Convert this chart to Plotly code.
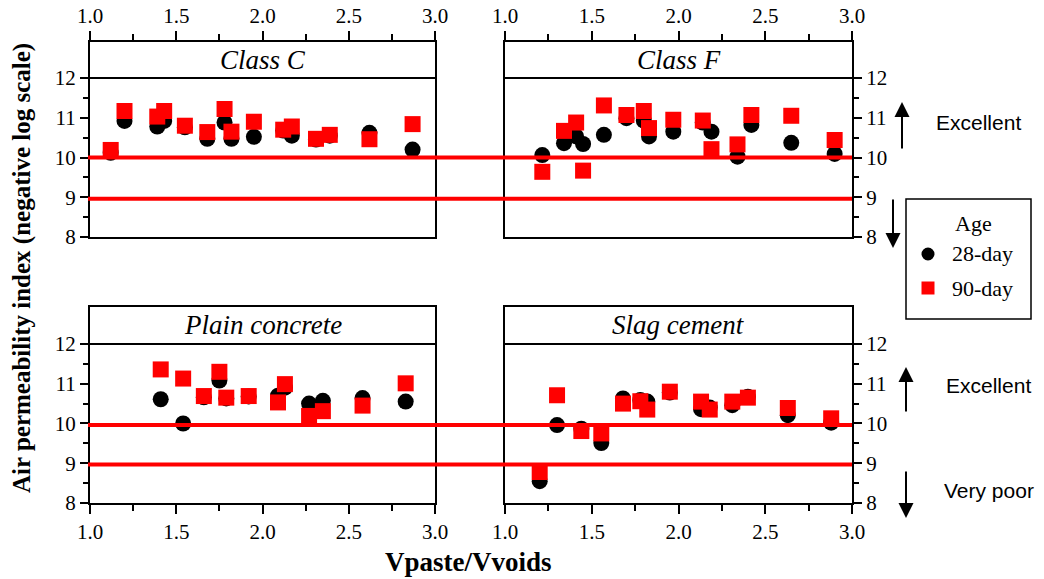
import plotly.graph_objects as go

# ---------------- data ----------------
panel_titles = ["Class C", "Class F", "Plain concrete", "Slag cement"]

cc_x = [1.12, 1.20, 1.39, 1.43, 1.55, 1.68, 1.78, 1.82, 1.95, 2.12, 2.17, 2.31, 2.39, 2.62, 2.87]
cc_28 = [10.12, 10.92, 10.78, 10.92, 10.76, 10.47, 10.88, 10.47, 10.52, 10.68, 10.55, 10.45, 10.55, 10.62, 10.20]
cc_90 = [10.19, 11.17, 11.03, 11.17, 10.80, 10.64, 11.22, 10.65, 10.90, 10.70, 10.78, 10.47, 10.57, 10.46, 10.84]

cf_x = [1.215, 1.34, 1.41, 1.45, 1.57, 1.70, 1.80, 1.83, 1.97, 2.14, 2.19, 2.34, 2.42, 2.65, 2.90]
cf_28 = [10.06, 10.36, 10.53, 10.34, 10.57, 10.99, 10.93, 10.53, 10.65, 10.88, 10.65, 10.02, 10.82, 10.37, 10.09]
cf_90 = [9.64, 10.67, 10.88, 9.67, 11.31, 11.07, 11.17, 10.74, 10.95, 10.93, 10.21, 10.33, 11.07, 11.05, 10.44]

pc_x = [1.41, 1.54, 1.66, 1.75, 1.79, 1.92, 2.09, 2.13, 2.27, 2.35, 2.58, 2.83]
pc_28 = [10.61, 10.00, 10.66, 11.08, 10.63, 10.68, 10.70, 10.90, 10.50, 10.57, 10.64, 10.55]
pc_90 = [11.36, 11.13, 10.69, 11.30, 10.65, 10.69, 10.53, 10.99, 10.19, 10.31, 10.45, 11.01]

sc_x = [1.20, 1.30, 1.44, 1.555, 1.68, 1.78, 1.82, 1.95, 2.13, 2.18, 2.31, 2.40, 2.63, 2.88]
sc_28 = [8.55, 9.96, 9.87, 9.51, 10.63, 10.59, 10.55, 10.78, 10.36, 10.40, 10.46, 10.67, 10.21, 10.02]
sc_90 = [8.78, 10.71, 9.81, 9.75, 10.50, 10.56, 10.35, 10.80, 10.55, 10.35, 10.55, 10.65, 10.39, 10.13]

thresholds_top = [10.0, 8.96]
thresholds_bottom = [9.96, 8.97]

y_major = [8, 9, 10, 11, 12]
y_minor = [8.5, 9.5, 10.5, 11.5]

series_names = ["28-day", "90-day"]
series_colors = ["black", "#ff0000"]
series_symbols = ["circle", "square"]

# ---------------- figure ----------------
W, H = 1044, 579
SERIF = "Liberation Serif, Times New Roman, Times, serif"
SANS = "Liberation Sans, Arial, sans-serif"


def px(x):
    return x / W


def py(y):
    return 1 - y / H


panels = [
    (cc_x, cc_28, cc_90),
    (cf_x, cf_28, cf_90),
    (pc_x, pc_28, pc_90),
    (sc_x, sc_28, sc_90),
]

fig = go.Figure()
for i, (xs, a28, a90) in enumerate(panels):
    sfx = "" if i == 0 else str(i + 1)
    for name, ys, col, sym in zip(series_names, [a28, a90], series_colors, series_symbols):
        fig.add_trace(go.Scatter(
            x=xs, y=ys, mode="markers", name=name, legendgroup=name,
            showlegend=False,
            marker=dict(symbol=sym, size=16, color=col),
            xaxis="x" + sfx, yaxis="y" + sfx))

xdom_left = [px(90), px(435)]
xdom_right = [px(505), px(852)]
ydom_top = [py(237), py(42)]
ydom_bot = [py(503), py(307)]

tickfont = dict(family=SERIF, size=21, color="black")


def xax(side, domain, anchor):
    return dict(domain=domain, anchor=anchor, side=side, range=[1, 3],
                tick0=1, dtick=0.5, tickformat=".1f", ticks="outside",
                ticklen=9, tickwidth=2, tickcolor="black",
                minor=dict(dtick=0.25, ticks="outside", ticklen=6, tickwidth=2, tickcolor="black"),
                showline=True, mirror=True, linecolor="black", linewidth=2,
                showgrid=False, zeroline=False, tickfont=dict(tickfont),
                automargin=False)


def yax(side, domain, anchor, top):
    return dict(domain=domain, anchor=anchor, side=side, range=[8, top],
                tickmode="array", tickvals=y_major, ticks="outside",
                ticklen=8, tickwidth=2, tickcolor="black",
                minor=dict(tickvals=y_minor, ticks="outside", ticklen=5, tickwidth=2, tickcolor="black"),
                showline=True, mirror=True, linecolor="black", linewidth=2,
                showgrid=False, zeroline=False, tickfont=dict(tickfont),
                automargin=False)


fig.update_layout(
    width=W, height=H,
    margin=dict(l=0, r=0, t=0, b=0, pad=0, autoexpand=False),
    paper_bgcolor="white", plot_bgcolor="white",
    xaxis=xax("top", xdom_left, "y"),
    yaxis=yax("left", ydom_top, "x", 12.906),
    xaxis2=xax("top", xdom_right, "y2"),
    yaxis2=yax("right", ydom_top, "x2", 12.906),
    xaxis3=xax("bottom", xdom_left, "y3"),
    yaxis3=yax("left", ydom_bot, "x3", 12.93),
    xaxis4=xax("bottom", xdom_right, "y4"),
    yaxis4=yax("right", ydom_bot, "x4", 12.93),
    showlegend=False,
)

shapes = []
annotations = []
axis_ids = ["", "2", "3", "4"]
for i, sfx in enumerate(axis_ids):
    shapes.append(dict(type="line", xref="x%s domain" % sfx, x0=0, x1=1,
                       yref="y" + sfx, y0=12, y1=12,
                       line=dict(color="black", width=2), layer="above"))
    ytop = 60 if i < 2 else 325
    annotations.append(dict(text="<i>%s</i>" % panel_titles[i], xref="x%s domain" % sfx, x=0.5,
                            yref="paper", y=py(ytop), showarrow=False,
                            xanchor="center", yanchor="middle",
                            font=dict(family=SERIF, size=27, color="black")))

for yv in thresholds_top:
    shapes.append(dict(type="line", xref="paper", x0=px(88), x1=px(852),
                       yref="y", y0=yv, y1=yv,
                       line=dict(color="#ff0000", width=4), layer="above"))
for yv in thresholds_bottom:
    shapes.append(dict(type="line", xref="paper", x0=px(88), x1=px(852),
                       yref="y3", y0=yv, y1=yv,
                       line=dict(color="#ff0000", width=4), layer="above"))

# ---- legend box (drawn) ----
shapes.append(dict(type="rect", xref="paper", yref="paper",
                   x0=px(906), x1=px(1031), y0=py(319), y1=py(199),
                   line=dict(color="black", width=1.5), fillcolor="white", layer="above"))
legend_rows = [254, 288]
for row, col, sym in zip(legend_rows, series_colors, series_symbols):
    shapes.append(dict(type="circle" if sym == "circle" else "rect",
                       xref="paper", yref="paper",
                       xsizemode="pixel", ysizemode="pixel",
                       xanchor=px(928), yanchor=py(row),
                       x0=-6.5, x1=6.5, y0=-6.5, y1=6.5,
                       line=dict(width=0), fillcolor=col, layer="above"))
annotations.append(dict(text="Age", xref="paper", yref="paper", x=px(973), y=py(223),
                        showarrow=False, xanchor="center", yanchor="middle",
                        font=dict(family=SERIF, size=22, color="black")))
for row, name in zip(legend_rows, series_names):
    annotations.append(dict(text=name, xref="paper", yref="paper", x=px(950), y=py(row),
                            showarrow=False, xanchor="left", yanchor="middle",
                            font=dict(family=SERIF, size=22, color="black")))


def arrow(x, y_head, y_tail):
    return dict(text="", xref="paper", yref="paper", x=px(x), y=py(y_head),
                ax=0, ay=y_tail - y_head, axref="pixel", ayref="pixel",
                showarrow=True, arrowhead=2, arrowsize=1.5, arrowwidth=2,
                arrowcolor="black")


annotations += [
    arrow(902, 102, 150),
    arrow(893, 248, 198),
    arrow(906, 367, 413),
    arrow(906, 518, 470),
    dict(text="Excellent", xref="paper", yref="paper", x=px(934), y=py(123),
         xanchor="left", yanchor="middle", showarrow=False,
         font=dict(family=SANS, size=21, color="black")),
    dict(text="Excellent", xref="paper", yref="paper", x=px(944), y=py(385),
         xanchor="left", yanchor="middle", showarrow=False,
         font=dict(family=SANS, size=21, color="black")),
    dict(text="Very poor", xref="paper", yref="paper", x=px(942), y=py(490),
         xanchor="left", yanchor="middle", showarrow=False,
         font=dict(family=SANS, size=21, color="black")),
    dict(text="<b>Air permeability index (negative log scale)</b>", xref="paper", yref="paper",
         x=px(22), y=py(268), textangle=-90, showarrow=False,
         xanchor="center", yanchor="middle",
         font=dict(family=SERIF, size=25, color="black")),
    dict(text="<b>Vpaste/Vvoids</b>", xref="paper", yref="paper",
         x=px(468), y=py(562), showarrow=False, xanchor="center", yanchor="middle",
         font=dict(family=SERIF, size=27, color="black")),
]

fig.update_layout(shapes=shapes, annotations=annotations)
fig.write_html("out.html")
